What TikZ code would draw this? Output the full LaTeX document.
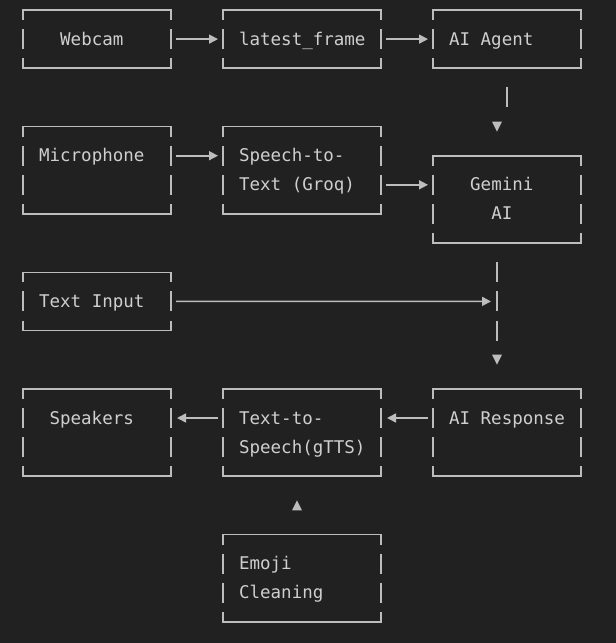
\documentclass[tikz,border=0pt]{standalone}
\usepackage{fontspec}
\setmonofont{DejaVu Sans Mono}
\usetikzlibrary{calc,arrows.meta}
\definecolor{bgc}{HTML}{212121}
\definecolor{fgc}{HTML}{BDBDBD}
\definecolor{txtc}{HTML}{CFCFCF}
\tikzset{
  lineart/.style={draw=fgc, line width=1.6pt},
  boxshape/.style={rectangle, inner sep=0pt, outer sep=0pt},
  txt/.style={font=\ttfamily\fontsize{17.5}{20}\selectfont, text=txtc, inner sep=0pt, text height=12pt, text depth=0pt, anchor=west},
  arr/.style={lineart, -{Triangle[length=9pt,width=9pt]}, shorten <=5pt, shorten >=5pt},
  tri/.style={fill=fgc, draw=none}
}
\newcommand\asciibox[5]{%
  \pgfmathsetmacro\bxB{#3+(#5+1)*29.14}%
  \pgfmathsetmacro\bxW{#4-#2}%
  \pgfmathsetmacro\bxH{\bxB-#3}%
  \node[boxshape, minimum width=\bxW pt, minimum height=\bxH pt, anchor=north west] (#1) at (#2,#3) {};
  \draw[lineart] ($(#1.north west)+(0,10)$) -- (#1.north west) -- (#1.north east) -- ($(#1.north east)+(0,10)$);
  \draw[lineart] ($(#1.south west)+(0,-10)$) -- (#1.south west) -- (#1.south east) -- ($(#1.south east)+(0,-10)$);
  \foreach \k in {1,...,#5} {
    \draw[lineart] ($(#1.north west)+(0,\k*29.14-10)$) -- ++(0,20);
    \draw[lineart] ($(#1.north east)+(0,\k*29.14-10)$) -- ++(0,20);
  }%
}
\newcommand\downtri[1]{\fill[tri] ($(#1)+(-5,-5)$) -- ($(#1)+(5,-5)$) -- ($(#1)+(0,5)$) -- cycle;}
\newcommand\uptri[1]{\fill[tri] ($(#1)+(-5,5)$) -- ($(#1)+(5,5)$) -- ($(#1)+(0,-5)$) -- cycle;}
\begin{document}
\begin{tikzpicture}[x=1pt,y=-1pt]
\fill[bgc] (0,0) rectangle (616,643);
\useasboundingbox (0,0) rectangle (616,643);

% boxes
\asciibox{webcam}{23}{10}{171}{1}
\asciibox{latest}{223}{10}{381}{1}
\asciibox{agent}{433}{10}{581}{1}
\asciibox{mic}{23}{126.6}{171}{2}
\asciibox{stt}{223}{126.6}{381}{2}
\asciibox{gemini}{433}{155.7}{581}{2}
\asciibox{textin}{23}{272.3}{171}{1}
\asciibox{speakers}{23}{388.8}{171}{2}
\asciibox{tts}{223}{388.8}{381}{2}
\asciibox{resp}{433}{388.8}{581}{2}
\asciibox{emoji}{223}{534.6}{381}{2}

% texts
\node[txt] (t-webcam) at (60.0,39.1) {Webcam};
\node[txt] (t-latest) at (238.9,39.1) {latest\_frame};
\node[txt] (t-agent) at (448.9,39.1) {AI Agent};
\node[txt] (t-mic) at (38.9,155.7) {Microphone};
\node[txt] (t-stt1) at (238.9,155.7) {Speech-to-};
\node[txt] (t-stt2) at (238.9,184.8) {Text (Groq)};
\node[txt] (t-gem1) at (470.0,184.8) {Gemini};
\node[txt] (t-gem2) at (491.1,213.9) {AI};
\node[txt] (t-textin) at (38.9,301.4) {Text Input};
\node[txt] (t-speak) at (49.4,418.0) {Speakers};
\node[txt] (t-tts1) at (238.9,418.0) {Text-to-};
\node[txt] (t-tts2) at (238.9,447.1) {Speech(gTTS)};
\node[txt] (t-resp) at (448.9,418.0) {AI Response};
\node[txt] (t-emoji1) at (238.9,563.7) {Emoji};
\node[txt] (t-emoji2) at (238.9,592.8) {Cleaning};

% horizontal connectors
\draw[arr] (webcam.east |- t-webcam.west) -- (latest.west |- t-webcam.west);
\draw[arr] (latest.east |- t-latest.west) -- (agent.west |- t-latest.west);
\draw[arr] (mic.east |- t-mic.west) -- (stt.west |- t-mic.west);
\draw[arr] (stt.east |- t-stt2.west) -- (gemini.west |- t-stt2.west);
\coordinate (tin) at ($(gemini.south)+(-10,58.28)$);
\draw[arr, shorten >=6pt] (textin.east |- t-textin.west) -- (tin);
\draw[arr, shorten >=6pt] (resp.west |- t-resp.west) -- (tts.east |- t-resp.west);
\draw[arr, shorten >=6pt] (tts.west |- t-tts1.west) -- (speakers.east |- t-tts1.west);

% agent -> gemini
\draw[lineart] ($(agent.south)+(0,19.14)$) -- ++(0,20);
\coordinate (agtri) at ($(gemini.north)+(-10,-29.14)$);
\downtri{agtri}

% gemini -> response
\foreach \k in {1,2,3} {
  \draw[lineart] ($(gemini.south)+(-10,\k*29.14-10)$) -- ++(0,20);
}
\coordinate (gmtri) at ($(resp.north)+(-10,-29.14)$);
\downtri{gmtri}

% emoji -> tts
\coordinate (emtri) at ($(emoji.north)+(-5,-29.14)$);
\uptri{emtri}
\end{tikzpicture}
\end{document}
